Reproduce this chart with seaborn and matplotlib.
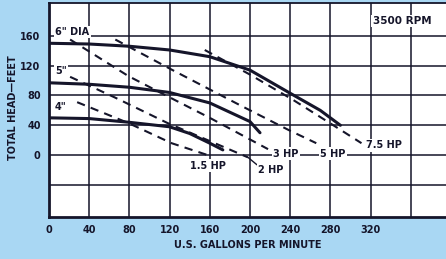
import pandas as pd
import matplotlib.pyplot as plt
import seaborn as sns

# Pump curves, 3500 RPM
gpm_6in = [0, 40, 80, 120, 160, 200, 240, 270, 290]
head_6in = [150, 149, 146, 141, 132, 114, 83, 60, 40]
gpm_5in = [0, 40, 80, 120, 160, 200, 210]
head_5in = [97, 95, 91, 84, 70, 45, 30]
gpm_4in = [0, 40, 80, 120, 140, 160, 173]
head_4in = [50, 49, 44, 38, 29, 16, 7]

# Horsepower lines
gpm_15hp = [28, 79, 122, 158]
head_15hp = [71, 43, 16, 0]
gpm_2hp = [21, 66, 118, 198]
head_2hp = [105, 77, 43, -3]
gpm_3hp = [21, 79, 112, 160, 218]
head_3hp = [155, 106, 83, 50, 8]
gpm_5hp = [66, 123, 190, 238, 266]
head_5hp = [155, 114, 67, 34, 16]
gpm_75hp = [155, 200, 243, 283, 311]
head_75hp = [141, 108, 74, 40, 16]

x_ticks = [0, 40, 80, 120, 160, 200, 240, 280, 320, 360]
x_labels = ['0', '40', '80', '120', '160', '200', '240', '280', '320', '']
y_ticks = [-40, 0, 40, 80, 120, 160]
y_labels = ['', '0', '40', '80', '120', '160']

ink = '#15152a'
bg = '#a9d7f3'

sns.set_style("white")
plt.rcParams['font.family'] = ['DejaVu Sans']
plt.rcParams['font.weight'] = 'bold'

fig = plt.figure(figsize=(4.46, 2.59), dpi=100)
fig.patch.set_facecolor(bg)
ax = fig.add_axes([49 / 446, 42 / 259, 1 - 49 / 446 + 0.002, 214 / 259])
ax.set_facecolor('white')

curves = pd.DataFrame({
    'gpm': gpm_6in + gpm_5in + gpm_4in,
    'head': head_6in + head_5in + head_4in,
    'dia': ['6'] * len(gpm_6in) + ['5'] * len(gpm_5in) + ['4'] * len(gpm_4in),
})
for d, grp in curves.groupby('dia'):
    sns.lineplot(data=grp, x='gpm', y='head', ax=ax, color=ink, lw=2.2,
                 solid_capstyle='round', zorder=4)

hp_lines = [(gpm_15hp, head_15hp), (gpm_2hp, head_2hp), (gpm_3hp, head_3hp),
            (gpm_5hp, head_5hp), (gpm_75hp, head_75hp)]
for gx, gy in hp_lines:
    sns.lineplot(x=gx, y=gy, ax=ax, color=ink, lw=1.5, linestyle=(0, (4, 3)), zorder=3)

ax.set_xlim(0, 396)
ax.set_ylim(-83, 204)
ax.set_xticks(x_ticks)
ax.set_xticklabels(x_labels)
ax.set_yticks(y_ticks)
ax.set_yticklabels(y_labels)
ax.tick_params(length=0, labelsize=7, colors=ink, pad=6)
ax.grid(True, color=ink, lw=1.1)
ax.set_axisbelow(True)
for s in ['left', 'bottom']:
    ax.spines[s].set_color(ink)
    ax.spines[s].set_linewidth(2)
ax.spines['top'].set_color(ink)
ax.spines['top'].set_linewidth(1.3)
ax.spines['right'].set_visible(False)
ax.set_xlabel('')
ax.set_ylabel('')

box = dict(facecolor='white', edgecolor='none', pad=1)
lab = dict(fontsize=7, fontweight='bold', color=ink, zorder=5)
ax.text(6, 165, '6" DIA', va='center', ha='left', bbox=box, **lab)
ax.text(6, 113, '5"', va='center', ha='left', bbox=box, **lab)
ax.text(6, 64, '4"', va='center', ha='left', bbox=box, **lab)
ax.text(158, -14, '1.5 HP', va='center', ha='center', bbox=box, **lab)
ax.text(208, -20, '2 HP', va='center', ha='left', bbox=box, **lab)
ax.plot([198, 207], [-3, -13], color=ink, lw=1)
ax.text(223, 2, '3 HP', va='center', ha='left', bbox=box, **lab)
ax.text(270, 2, '5 HP', va='center', ha='left', bbox=box, **lab)
ax.text(315, 13, '7.5 HP', va='center', ha='left', bbox=box, **lab)
ax.text(322, 180, '3500 RPM', va='center', ha='left', bbox=box,
        **{**lab, 'fontsize': 7.5})

fig.text(13 / 446, 1 - 108 / 259, 'TOTAL HEAD\u2014FEET', rotation=90,
         ha='center', va='center', fontsize=7, fontweight='bold', color=ink)
fig.text(248 / 446, 1 - 245 / 259, 'U.S. GALLONS PER MINUTE',
         ha='center', va='center', fontsize=7, fontweight='bold', color=ink)

fig.savefig('out.png', dpi=100, facecolor=bg)
